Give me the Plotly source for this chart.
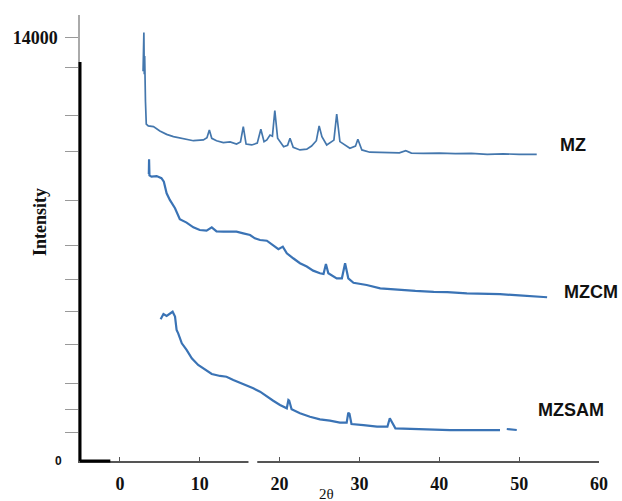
import plotly.graph_objects as go

# ---- data ----
mz_x = [2.9, 2.95, 3.0, 3.05, 3.1, 3.2, 3.3, 3.55, 4.2, 5.0, 5.85, 6.7, 7.95, 9.2, 10.45, 10.9, 11.2, 11.5,
        12.1, 12.95, 13.8, 14.6, 15.1, 15.45, 15.8, 16.5, 17.2, 17.65, 18.05, 18.4, 18.8, 19.1, 19.4, 19.75,
        20.5, 21.0, 21.3, 21.7, 22.55, 23.4, 24.0, 24.6, 24.95, 25.3, 25.9, 26.8, 27.15, 27.55, 28.8, 29.5,
        29.8, 30.3, 31.3, 33.0, 35.0, 35.8, 36.5, 38.0, 40.0, 42.0, 44.0, 46.0, 48.0, 50.0, 52.2]
mz_y = [12900, 13600, 14180, 12800, 13400, 11900, 11150, 11090, 11065, 10920, 10810, 10735, 10660, 10600,
        10625, 10700, 10955, 10680, 10600, 10540, 10560, 10490, 10560, 11065, 10490, 10460, 10520, 10980,
        10570, 10625, 10790, 10750, 11600, 10680, 10400, 10450, 10680, 10380, 10295, 10320, 10425, 10600,
        11090, 10735, 10460, 10620, 11485, 10570, 10350, 10420, 10650, 10295, 10220, 10210, 10200, 10270,
        10190, 10180, 10190, 10170, 10180, 10150, 10165, 10150, 10150]

mzcm_x = [3.62, 3.65, 3.7, 3.95, 4.6, 5.2, 5.5, 5.85, 6.25, 6.9, 7.5, 8.35, 9.2, 10.0, 10.85, 11.5, 12.1,
          12.95, 13.8, 14.6, 15.45, 16.3, 16.9, 17.55, 18.4, 19.2, 19.85, 20.4, 20.9, 21.7, 22.55, 23.4,
          24.2, 25.05, 25.5, 25.8, 26.1, 27.15, 27.8, 28.2, 28.6, 29.25, 30.1, 30.9, 32.6, 35.1, 37.0,
          39.3, 41.0, 43.45, 45.5, 47.6, 50.0, 53.5]
mzcm_y = [9500, 9985, 9450, 9410, 9430, 9360, 9245, 8860, 8640, 8365, 8000, 7890, 7735, 7645, 7625, 7735,
          7600, 7590, 7590, 7590, 7535, 7480, 7370, 7315, 7290, 7150, 7010, 7095, 6875, 6710, 6545, 6435,
          6300, 6215, 6190, 6520, 6215, 6045, 6045, 6545, 6045, 5900, 5860, 5825, 5715, 5660, 5630, 5600,
          5590, 5550, 5540, 5520, 5480, 5420]

mzsam_x = [5.1, 5.45, 5.85, 6.25, 6.6, 6.9, 7.1, 7.3, 7.75, 8.35, 9.0, 9.8, 10.65, 11.5, 12.55, 13.35,
           14.2, 15.05, 15.9, 16.7, 17.55, 18.4, 19.2, 20.05, 20.9, 21.1, 21.2, 21.5, 22.55, 23.8, 25.05,
           26.3, 27.55, 28.4, 28.6, 28.75, 29.0, 30.5, 32.2, 33.5, 33.8, 34.5, 37.2, 41.35, 45.5, 47.6,
           48.0, 48.45, 49.7]
mzsam_y = [4690, 4865, 4800, 4890, 4940, 4780, 4335, 4225, 3895, 3675, 3400, 3180, 3035, 2880, 2815, 2790,
           2680, 2590, 2515, 2405, 2295, 2130, 1995, 1855, 1745, 2020, 2000, 1710, 1580, 1465, 1380, 1335,
           1270, 1270, 1600, 1560, 1225, 1190, 1135, 1135, 1415, 1080, 1050, 1025, 1025, 1025, None, 1060,
           1025]

series_names = ["MZ", "MZCM", "MZSAM"]
label_x = [56.8, 59.0, 56.5]
label_y = [10460, 5610, 1690]

x_tickvals = [0, 10, 20, 30, 40, 50, 60]
y_tickvals = [927, 1721, 2581, 3872, 4932, 5991, 7116, 8606, 10228, 11420, 13008, 14000]
y_ticktext = ["", "", "", "", "", "", "", "", "", "", "", "<b>14000</b>"]

fig = go.Figure()
fig.add_trace(go.Scatter(x=mz_x, y=mz_y, mode="lines", line=dict(color="#4477ad", width=1.7),
                         name="MZ", showlegend=False))
fig.add_trace(go.Scatter(x=mzcm_x, y=mzcm_y, mode="lines", line=dict(color="#3a73b5", width=2.2),
                         name="MZCM", showlegend=False))
fig.add_trace(go.Scatter(x=mzsam_x, y=mzsam_y, mode="lines", line=dict(color="#3a73b5", width=2.2),
                         name="MZSAM", showlegend=False, connectgaps=False))

ann = []
for n, lx, ly in zip(series_names, label_x, label_y):
    ann.append(dict(x=lx, y=ly, xref="x", yref="y", text="<b>%s</b>" % n, showarrow=False,
                    xanchor="center", yanchor="middle",
                    font=dict(family="Liberation Sans", size=18, color="#111")))
ann.append(dict(x=-0.076, y=7894, xref="paper", yref="y", text="<b>Intensity</b>", textangle=-90,
                showarrow=False, xanchor="center", yanchor="middle",
                font=dict(family="Liberation Serif", size=18, color="#111")))
ann.append(dict(x=25.9, y=-0.074, xref="x", yref="paper", text="2θ", showarrow=False,
                xanchor="center", yanchor="middle",
                font=dict(family="Liberation Serif", size=15, color="#111")))
ann.append(dict(x=-0.03, y=0, xref="paper", yref="y", text="<b>0</b>", showarrow=False,
                xanchor="right", yanchor="middle",
                font=dict(family="Liberation Sans", size=12, color="#111")))

shapes = [
    dict(type="line", xref="paper", yref="y", x0=0, x1=0, y0=0, y1=13207,
         line=dict(color="black", width=3)),
    dict(type="line", xref="x", yref="paper", x0=-5, x1=-1.2, y0=0, y1=0,
         line=dict(color="black", width=3)),
    dict(type="line", xref="x", yref="paper", x0=16.1, x1=17.2, y0=0, y1=0,
         line=dict(color="white", width=4)),
]

fig.update_layout(
    template="none",
    width=622, height=501,
    margin=dict(l=80, r=23, t=15, b=40, autoexpand=False),
    plot_bgcolor="white", paper_bgcolor="white",
    showlegend=False,
    hovermode=False,
    annotations=ann,
    shapes=shapes,
    xaxis=dict(range=[-5, 60], showgrid=False, zeroline=False, showline=True, linecolor="#555",
               linewidth=1.5, ticks="inside", ticklen=4, tickcolor="#555", tickvals=x_tickvals,
               ticktext=["<b>%d</b>" % v for v in x_tickvals], ticklabelstandoff=6,
               tickfont=dict(family="Liberation Serif", size=18, color="#111"), automargin=False),
    yaxis=dict(range=[0, 14761], showgrid=False, zeroline=False, showline=True, linecolor="#aaa",
               linewidth=1.5, ticks="outside", ticklen=13, tickcolor="#999", tickvals=y_tickvals,
               ticktext=y_ticktext, ticklabelstandoff=4,
               tickfont=dict(family="Liberation Serif", size=18, color="#111"), automargin=False),
)

# remove the default page margin so the figure sits at the window's top-left corner
fig.write_html("out.html", config={"displayModeBar": False},
               post_script="document.body.style.margin='0';document.body.style.overflow='hidden';")
